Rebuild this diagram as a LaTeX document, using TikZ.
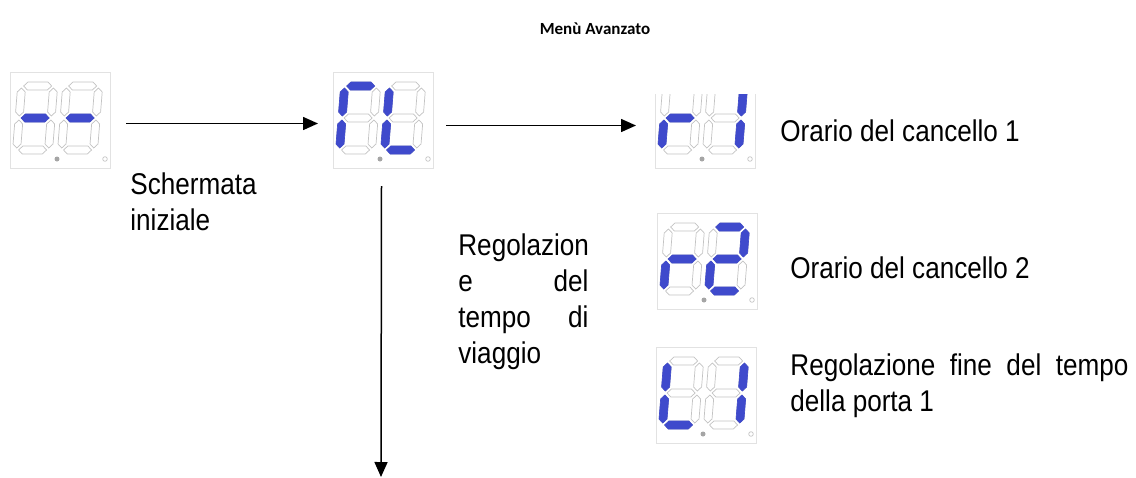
\documentclass[tikz,border=0pt]{standalone}
\usepackage{fontspec}
\setmainfont{Liberation Sans}[FakeStretch=0.87]
\newfontfamily\titlefont{Carlito}
\usepackage{xcolor}
\usetikzlibrary{arrows.meta}
\definecolor{SegBlue}{RGB}{63, 74, 204}
\definecolor{SegOff}{RGB}{195, 195, 195}
\definecolor{FrameGrey}{RGB}{226, 226, 226}
\definecolor{DotGrey}{RGB}{165, 165, 165}

\tikzset{
    seg on/.style={fill=SegBlue, draw=SegBlue, line width=0.3pt},
    seg off/.style={fill=white, draw=SegOff, line width=0.35pt},
    frame box/.style={draw=FrameGrey, line width=0.5pt, minimum width=50pt,
      minimum height=48pt, inner sep=0pt, anchor=north west},
    flowarrow/.style={-{Triangle[length=7.5pt,width=6.5pt]}, line width=0.75pt},
    bodytext/.style={font=\fontsize{15}{18}\selectfont, inner sep=0pt, anchor=base west},
}

% segment outlines, local pixel units (y downwards)
\newcommand{\hseg}[1]{(6,#1) -- (10,#1-4) -- (30,#1-4) -- (34,#1) -- (30,#1+4) -- (10,#1+4) -- cycle}
\newcommand{\vseg}[3]{(#1,#2) -- (#1+4,#2+4) -- (#1+4,#3-4) -- (#1,#3) -- (#1-4,#3-4) -- (#1-4,#2+4) -- cycle}
\expandafter\def\csname segshapea\endcsname{\hseg{4}}
\expandafter\def\csname segshapeg\endcsname{\hseg{36}}
\expandafter\def\csname segshaped\endcsname{\hseg{68}}
\expandafter\def\csname segshapef\endcsname{\vseg{4}{6}{34}}
\expandafter\def\csname segshapeb\endcsname{\vseg{36}{6}{34}}
\expandafter\def\csname segshapee\endcsname{\vseg{4}{38}{66}}
\expandafter\def\csname segshapec\endcsname{\vseg{36}{38}{66}}
\newcommand{\segshape}[1]{\csname segshape#1\endcsname}

% one digit: x, y, lit segments
\newcommand{\segdigit}[3]{%
    \begin{scope}[shift={(#1,#2)}, xslant=0.08]
      \foreach \s in {a,b,c,d,e,f,g} {\path[seg off] \segshape{\s};}
      \foreach \s in {#3} {\path[seg on] \segshape{\s};}
    \end{scope}}

% display: name, x, y, digit 1, digit 2
\newcommand{\segdisplay}[5]{%
    \node[frame box] (#1) at (#2,#3) {};
    \segdigit{#2+8}{#3+10}{#4}
    \segdigit{#2+53}{#3+10}{#5}
    \fill[DotGrey] (#2+47,#3+87) circle[radius=2.5];
    \draw[SegOff, line width=0.35pt] (#2+95,#3+87) circle[radius=2.3];}

\begin{document}
\begin{tikzpicture}[x=0.5pt, y=-0.5pt]
    \useasboundingbox (0,0) rectangle (1136,477);

    \node[font=\titlefont\bfseries\fontsize{8.5}{10}\selectfont, inner sep=0pt, anchor=base]
      (title) at (595,34) {Menù Avanzato};

    \segdisplay{home}{10}{72}{g}{g}
    \segdisplay{travel}{333}{72}{a,f,e}{f,e,d}
    \begin{scope}
      \clip (640,94) rectangle (780,180);
      \segdisplay{gate one}{655}{72}{g,e}{b,c}
    \end{scope}
    \segdisplay{gate two}{657}{213}{g,e}{a,b,g,e,d}
    \segdisplay{fine one}{656}{347}{f,e,d}{b,c}

    % connectors
    \draw[flowarrow] ([xshift=7.5pt,yshift=-1.5pt]home.east) -- ([xshift=-7.5pt,yshift=-1.5pt]travel.west);
    \draw[flowarrow] ([xshift=6pt,yshift=-2.5pt]travel.east) -- ([xshift=-9.5pt,yshift=-2.5pt]travel.east -| gate one.west);
    \coordinate (menu end) at (381,477);
    \draw[flowarrow] ([xshift=-1pt,yshift=-8.5pt]travel.south) -- (menu end);

    % labels
    \node[bodytext, align=left] (home label) at (130,230) {Schermata\\iniziale};
    \node[bodytext, align=left] (travel label) at (458,363)
      {Regolazion\\\makebox[65pt][s]{e del}\\\makebox[65pt][s]{tempo di}\\viaggio};
    \node[bodytext] (gate one label) at (780,141) {Orario del cancello 1};
    \node[bodytext] (gate two label) at (790,278) {Orario del cancello 2};
    \node[bodytext, text width=169pt, align=justify] (fine one label) at (790,375)
      {Regolazione fine del tempo della porta 1};
\end{tikzpicture}
\end{document}
